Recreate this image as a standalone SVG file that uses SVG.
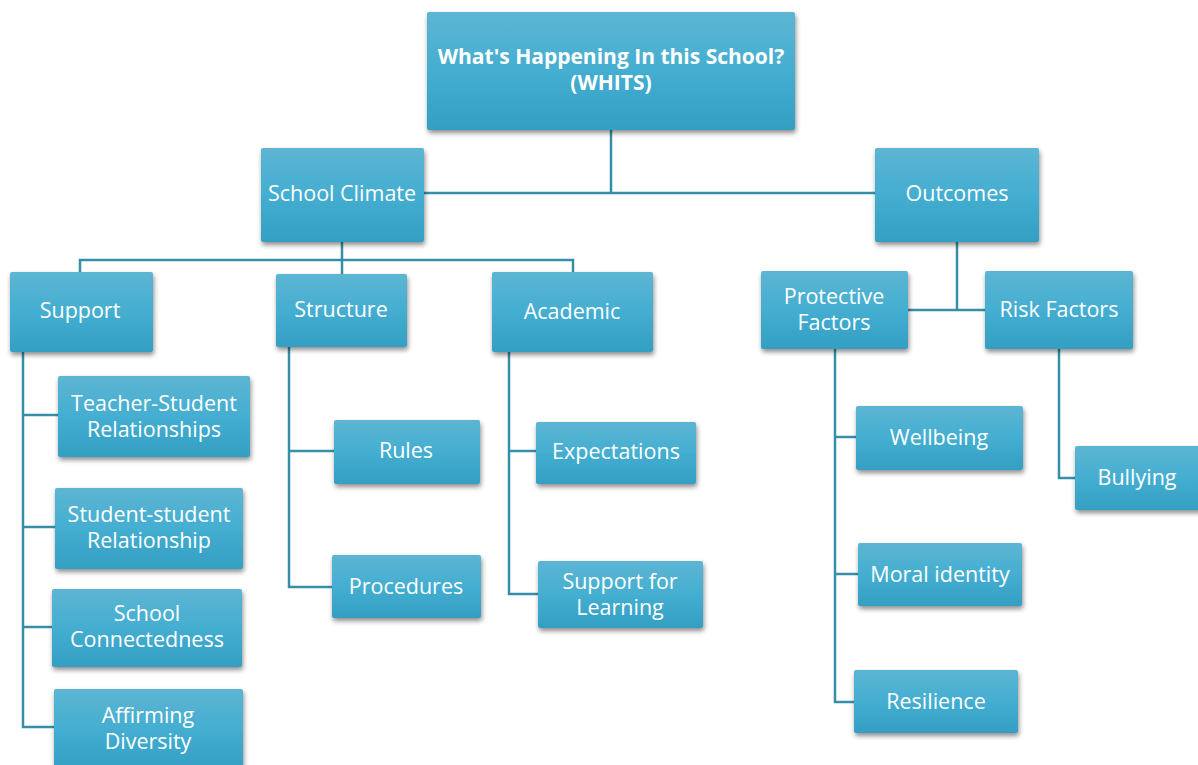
<svg xmlns="http://www.w3.org/2000/svg" width="1198" height="765" viewBox="0 0 1198 765">
<defs>
<linearGradient id="g" x1="0" y1="0" x2="0" y2="1">
<stop offset="0" stop-color="#5db5d3"/>
<stop offset="0.5" stop-color="#44aed1"/>
<stop offset="1" stop-color="#339fc3"/>
</linearGradient>
<filter id="sh" x="-10%" y="-10%" width="125%" height="135%">
<feGaussianBlur in="SourceAlpha" stdDeviation="2.5"/>
<feOffset dx="1" dy="3" result="b"/>
<feComponentTransfer><feFuncA type="linear" slope="0.45"/></feComponentTransfer>
<feMerge><feMergeNode/><feMergeNode in="SourceGraphic"/></feMerge>
</filter>
</defs>
<style>
.box{fill:url(#g);filter:url(#sh)}
.t{font-family:"Open Sans","Noto Sans",sans-serif;font-size:21.5px;fill:#ffffff;text-anchor:middle;dominant-baseline:central}
.b{font-weight:bold;font-size:21px}
.c{fill:none;stroke:#378ea9;stroke-width:2.5}
</style>
<rect width="1198" height="765" fill="#ffffff"/>
<g id="connectors">
<path class="c" d="M611 130V193M424 193H875"/>
<path class="c" d="M342 242V260M80 272V260H573V272M342 260V274"/>
<path class="c" d="M957 242V310M908 310H985"/>
<path class="c" d="M23 352V727H54M23 415H58M23 527H55M23 627H52"/>
<path class="c" d="M289 347V587H332M289 451H334"/>
<path class="c" d="M509 352V594H538M509 451H536"/>
<path class="c" d="M835 349V702H854M835 437H856M835 574H858"/>
<path class="c" d="M1059 349V478H1075"/>
</g>
<g id="root"><rect class="box" x="427" y="12" width="368" height="118" rx="2"/><text class="t b" x="611" y="56">What's Happening In this School?</text><text class="t b" x="611" y="82">(WHITS)</text></g>
<g id="school-climate"><rect class="box" x="261" y="148" width="163" height="94" rx="2"/><text class="t" x="342" y="192">School Climate</text></g>
<g id="outcomes"><rect class="box" x="875" y="148" width="164" height="94" rx="2"/><text class="t" x="957" y="192">Outcomes</text></g>
<g id="support"><rect class="box" x="10" y="272" width="143" height="80" rx="2"/><text class="t" x="80" y="309">Support</text></g>
<g id="structure"><rect class="box" x="276" y="274" width="131" height="73" rx="2"/><text class="t" x="341" y="308">Structure</text></g>
<g id="academic"><rect class="box" x="492" y="272" width="161" height="80" rx="2"/><text class="t" x="572" y="310">Academic</text></g>
<g id="protective"><rect class="box" x="761" y="271" width="147" height="78" rx="2"/><text class="t" x="834" y="295">Protective</text><text class="t" x="834" y="321">Factors</text></g>
<g id="risk"><rect class="box" x="985" y="271" width="148" height="78" rx="2"/><text class="t" x="1059" y="308">Risk Factors</text></g>
<g id="teacher-student"><rect class="box" x="58" y="376" width="192" height="81" rx="2"/><text class="t" x="154" y="402">Teacher-Student</text><text class="t" x="154" y="428">Relationships</text></g>
<g id="student-student"><rect class="box" x="55" y="488" width="188" height="81" rx="2"/><text class="t" x="149" y="513">Student-student</text><text class="t" x="149" y="539">Relationship</text></g>
<g id="connectedness"><rect class="box" x="52" y="589" width="190" height="78" rx="2"/><text class="t" x="147" y="612">School</text><text class="t" x="147" y="638">Connectedness</text></g>
<g id="diversity"><rect class="box" x="54" y="689" width="189" height="80" rx="2"/><text class="t" x="148" y="714">Affirming</text><text class="t" x="148" y="740">Diversity</text></g>
<g id="rules"><rect class="box" x="334" y="420" width="146" height="64" rx="2"/><text class="t" x="406" y="449">Rules</text></g>
<g id="procedures"><rect class="box" x="332" y="555" width="149" height="63" rx="2"/><text class="t" x="406" y="585">Procedures</text></g>
<g id="expectations"><rect class="box" x="536" y="422" width="160" height="62" rx="2"/><text class="t" x="616" y="450">Expectations</text></g>
<g id="support-learning"><rect class="box" x="538" y="561" width="165" height="67" rx="2"/><text class="t" x="620" y="580">Support for</text><text class="t" x="620" y="606">Learning</text></g>
<g id="wellbeing"><rect class="box" x="856" y="406" width="167" height="64" rx="2"/><text class="t" x="939" y="436">Wellbeing</text></g>
<g id="moral"><rect class="box" x="858" y="543" width="164" height="63" rx="2"/><text class="t" x="940" y="573">Moral identity</text></g>
<g id="resilience"><rect class="box" x="854" y="670" width="164" height="63" rx="2"/><text class="t" x="936" y="700">Resilience</text></g>
<g id="bullying"><rect class="box" x="1075" y="446" width="130" height="64" rx="2"/><text class="t" x="1137" y="476">Bullying</text></g>
</svg>
